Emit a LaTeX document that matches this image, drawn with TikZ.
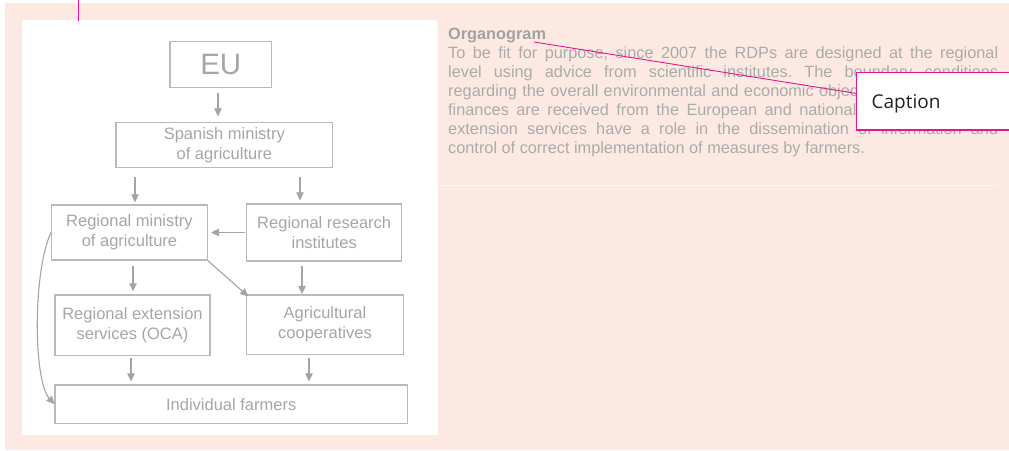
\documentclass[tikz,border=0pt]{standalone}
\usepackage{fontspec}
\setmainfont{Liberation Sans}
\newfontfamily\capfont{Open Sans}
\usetikzlibrary{arrows.meta}
\definecolor{peach}{HTML}{FCEAE2}
\definecolor{framelight}{HTML}{FDF4EF}
\definecolor{boxgray}{HTML}{B9B9B9}
\definecolor{arrgray}{HTML}{A4A4A4}
\definecolor{txtgray}{HTML}{A6A6A6}
\definecolor{bodygray}{HTML}{ABABAB}
\definecolor{orggray}{HTML}{A2A2A2}
\definecolor{pinkline}{HTML}{E8168C}
\definecolor{captext}{HTML}{222222}
\tikzset{
  orgbox/.style={draw=boxgray, line width=1.3pt, text=txtgray, align=center, inner sep=0pt, font=\fontsize{16.5}{20}\selectfont},
  orgarrow/.style={draw=arrgray, line width=1.1pt, -{Triangle[length=8pt,width=7.5pt]}, shorten <=4pt, shorten >=3pt},
  leader/.style={draw=pinkline, line width=0.9pt},
}
\begin{document}
\begin{tikzpicture}[x=1pt,y=-1pt]
\useasboundingbox (0,0) rectangle (1009,450);
% Hintergrund:
\fill[peach] (5,3) rectangle (1009,450);
\fill[white] (22,20) rectangle (438,435); % Bildflaeche
\draw[framelight, line width=0.8pt] (437,20) -- (437,185) -- (999,185); % Textrahmen
% Kaesten:
\node[orgbox, minimum width=101.7pt, minimum height=45.6pt, font=\fontsize{29.5}{30}\selectfont] (eu) at (220.8,64.5) {EU};
\node[orgbox, minimum width=216.7pt, minimum height=45pt] (spain) at (224.3,145.2) {Spanish ministry\\of agriculture};
\node[orgbox, minimum width=155.6pt, minimum height=55pt] (regmin) at (129.5,232.5) {Regional ministry\\of agriculture};
\node[orgbox, minimum width=155pt, minimum height=57pt] (research) at (324.2,232.5) {Regional research\\institutes};
\node[orgbox, minimum width=155pt, minimum height=60.7pt] (ext) at (132.5,325.3) {Regional extension\\services (OCA)};
\node[orgbox, minimum width=156.7pt, minimum height=59.3pt] (coop) at (325,324.7) {Agricultural\\cooperatives};
\node[orgbox, minimum width=352.3pt, minimum height=38.3pt] (farmers) at (231.2,404.2) {Individual farmers};
% Pfeile:
\draw[orgarrow, shorten <=4.7pt, shorten >=5.7pt] (eu.south -| 218,0) -- (spain.north -| 218,0);
\draw[orgarrow, shorten <=9pt, shorten >=2pt] (spain.south -| 135,0) -- (regmin.north -| 135,0);
\draw[orgarrow, shorten <=9pt, shorten >=3pt] (spain.south -| 300,0) -- (research.north -| 300,0);
\draw[orgarrow, shorten <=1.5pt] (research.west) -- (regmin.east);
\draw[orgarrow, shorten <=5pt] (regmin.south -| 133,0) -- (ext.north -| 133,0);
\draw[orgarrow, shorten <=0pt, shorten >=-3pt] (regmin.south east) -- (coop.north west);
\draw[orgarrow, shorten >=0.5pt] (research.south -| 302,0) -- (coop.north -| 302,0);
\draw[orgarrow, shorten <=1.5pt] (ext.south -| 131,0) -- (farmers.north -| 131,0);
\draw[orgarrow, shorten <=3pt] (coop.south -| 309,0) -- (farmers.north -| 309,0);
\draw[orgarrow, shorten <=0pt, shorten >=0pt] (regmin.west) .. controls (33,270) and (33,380) .. (farmers.west); % Bogen links
% Text rechts:
\node[anchor=north west, inner sep=0pt, text width=550pt, align=justify, text=bodygray, font=\fontsize{16.3}{19}\selectfont\frenchspacing] (bodytext) at (448,28)
  {\textbf{\color{orggray}Organogram}\\
  To be fit for purpose, since 2007 the RDPs are designed at the regional\linebreak
  level using advice from scientific institutes. The boundary conditions\linebreak
  regarding the overall environmental and economic objectives as well as the\linebreak
  finances are received from the European and national governments. The\linebreak
  extension services have a role in the dissemination of information and\linebreak
  control of correct implementation of measures by farmers.};
% Beschriftung:
\node[draw=pinkline, line width=1.2pt, fill=white, anchor=west, minimum height=57.3pt, text width=200pt, inner xsep=15pt, text depth=0pt, align=left, text=captext, font={\capfont\fontsize{19}{22}\selectfont}] (capbox) at (856,101.4) {Caption};
\coordinate (orgtip) at (534,42);
\draw[leader] (orgtip) -- ([yshift=8pt]capbox.west);
\coordinate (pintop) at (78.5,0);
\draw[leader] (pintop) -- ++(0,20.5);
\end{tikzpicture}
\end{document}
